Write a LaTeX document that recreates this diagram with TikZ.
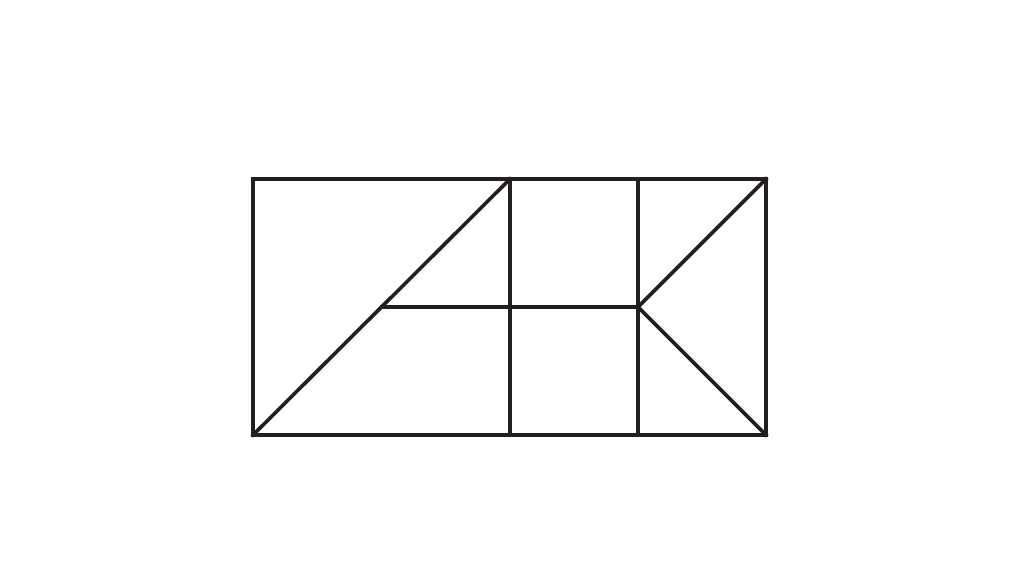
\documentclass[tikz,border=0pt]{standalone}
\definecolor{ink}{HTML}{231F20}
\begin{document}
\begin{tikzpicture}[x=1pt,y=-1pt,
  figline/.style={draw=ink,line width=3.6pt,line cap=rect,line join=miter}]
\useasboundingbox (0,0) rectangle (1024,577);
\coordinate (TL) at (253,179);
\coordinate (TR) at (766,179);
\coordinate (BL) at (253,435);
\coordinate (BR) at (766,435);
\coordinate (A1) at (510,179);
\coordinate (A2) at (510,435);
\coordinate (K1) at (638,179);
\coordinate (K2) at (638,435);
\coordinate (KM) at (638,307);
\coordinate (HM) at (382,307);
\draw[figline] (TL) rectangle (BR);
\draw[figline] (A1) -- (A2);
\draw[figline] (K1) -- (K2);
\draw[figline] (BL) -- (A1);
\draw[figline] (HM) -- (KM);
\draw[figline] (TR) -- (KM) -- (BR);
\end{tikzpicture}
\end{document}
